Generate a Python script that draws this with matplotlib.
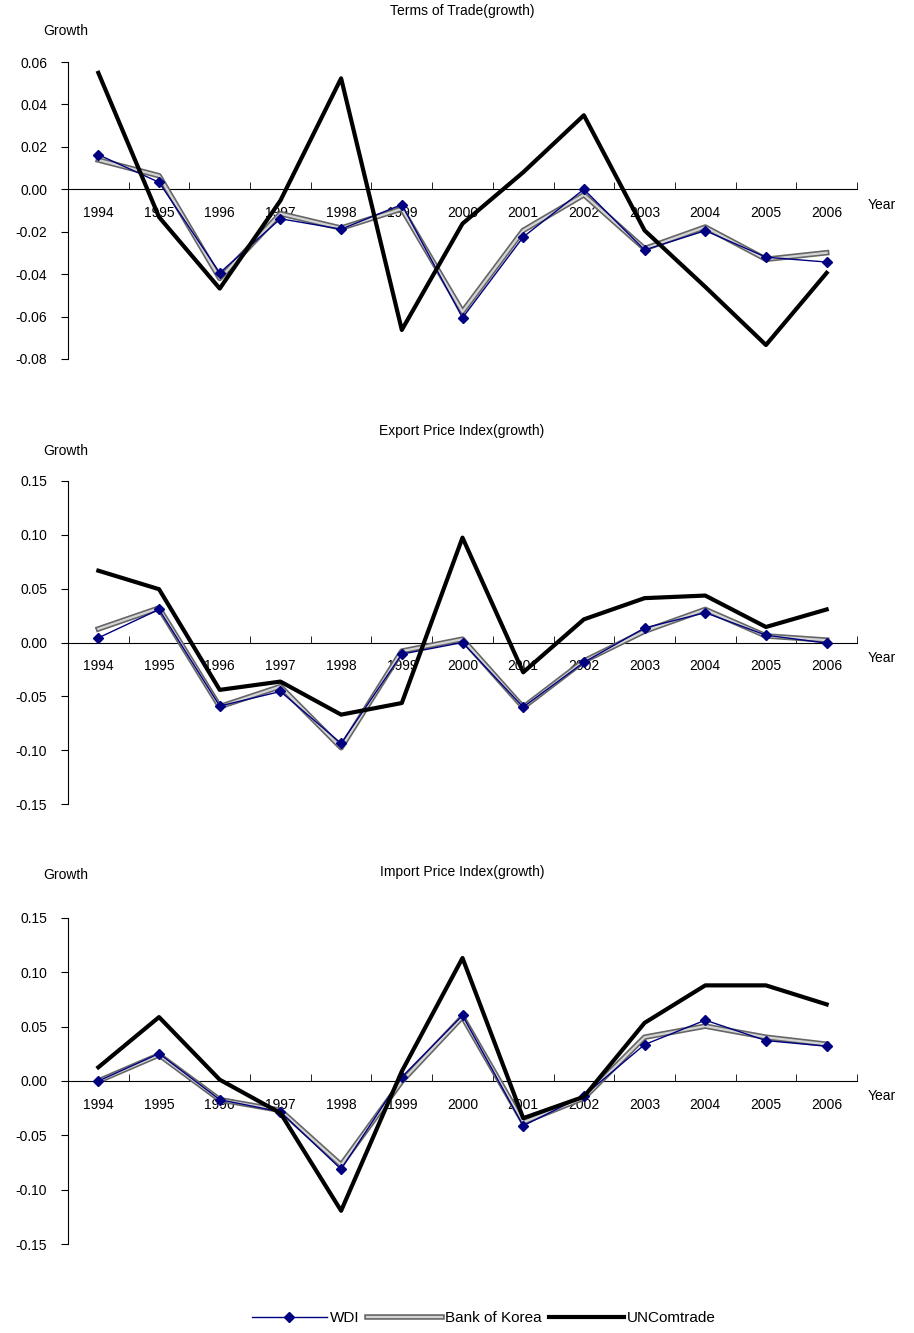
import matplotlib
matplotlib.use("Agg")
import matplotlib.pyplot as plt
import matplotlib.patheffects as pe
from matplotlib.ticker import FormatStrFormatter, MultipleLocator
import numpy as np

plt.rcParams['font.family'] = ['Liberation Sans', 'DejaVu Sans']

years = ['1994', '1995', '1996', '1997', '1998', '1999', '2000',
         '2001', '2002', '2003', '2004', '2005', '2006']

# Terms of Trade (growth)
tot_wdi = [0.0163, 0.0033, -0.0394, -0.0139, -0.0188, -0.0072, -0.0606,
           -0.0225, 0.0000, -0.0286, -0.0195, -0.0320, -0.0343]
tot_bok = [0.0138, 0.0064, -0.0420, -0.0115, -0.0183, -0.0092, -0.0577,
           -0.0194, -0.0026, -0.0280, -0.0178, -0.0330, -0.0299]
tot_un = [0.0549, -0.0131, -0.0468, -0.0053, 0.0523, -0.0663, -0.0162,
          0.0080, 0.0349, -0.0194, -0.0460, -0.0734, -0.0394]

# Export Price Index (growth)
exp_wdi = [0.0043, 0.0307, -0.0590, -0.0455, -0.0937, -0.0108, 0.0000,
           -0.0600, -0.0184, 0.0135, 0.0277, 0.0068, -0.0006]
exp_bok = [0.0126, 0.0320, -0.0596, -0.0409, -0.0977, -0.0080, 0.0031,
           -0.0602, -0.0172, 0.0105, 0.0307, 0.0061, 0.0022]
exp_un = [0.0667, 0.0495, -0.0440, -0.0363, -0.0670, -0.0562, 0.0974,
          -0.0277, 0.0215, 0.0412, 0.0436, 0.0144, 0.0307]

# Import Price Index (growth)
imp_wdi = [0.0000, 0.0252, -0.0172, -0.0283, -0.0812, 0.0037, 0.0603,
           -0.0412, -0.0135, 0.0335, 0.0560, 0.0372, 0.0320]
imp_bok = [0.0000, 0.0240, -0.0172, -0.0270, -0.0772, -0.0003, 0.0590,
           -0.0380, -0.0157, 0.0403, 0.0505, 0.0403, 0.0338]
imp_un = [0.0126, 0.0588, 0.0012, -0.0295, -0.1194, 0.0089, 0.1132,
          -0.0342, -0.0145, 0.0535, 0.0880, 0.0880, 0.0705]

W, H = 914, 1333
fig = plt.figure(figsize=(W / 100, H / 100), dpi=100)

panels = [
    # title, wdi, bok, un, ylim, step, (top px, bottom px), title y, growth y
    ('Terms of Trade(growth)', tot_wdi, tot_bok, tot_un, (-0.08, 0.06), 0.02, (62, 359), 11, 31),
    ('Export Price Index(growth)', exp_wdi, exp_bok, exp_un, (-0.15, 0.15), 0.05, (481, 804), 431, 451),
    ('Import Price Index(growth)', imp_wdi, imp_bok, imp_un, (-0.15, 0.15), 0.05, (918, 1244), 872, 875),
]

x = np.arange(len(years))
fs = 10
bok_fx = [pe.Stroke(linewidth=4, foreground='#666666'), pe.Normal()]

for title, wdi, bok, un, ylim, step, (top, bot), ty, gy in panels:
    ax = fig.add_axes([68 / W, 1 - bot / H, (857 - 68) / W, (bot - top) / H])
    l_bok, = ax.plot(x, bok, color='#d4d4d4', lw=1.6, zorder=3, label='Bank of Korea',
                     path_effects=bok_fx)
    l_wdi, = ax.plot(x, wdi, color='#000080', lw=1, marker='D', ms=5.5, zorder=4, label='WDI')
    l_un, = ax.plot(x, un, color='black', lw=3, zorder=5, label='UNComtrade')

    ax.set_xlim(-0.5, len(years) - 0.5)
    ax.set_ylim(*ylim)
    ax.spines['top'].set_visible(False)
    ax.spines['right'].set_visible(False)
    ax.spines['bottom'].set_position(('data', 0))
    ax.spines['bottom'].set_zorder(1)

    ax.set_xticks(x)
    ax.set_xticklabels(years, fontsize=fs)
    ax.set_xticks(np.arange(len(years) + 1) - 0.5, minor=True)
    ax.tick_params(axis='x', which='major', length=0, pad=12)
    ax.tick_params(axis='x', which='minor', direction='in', length=5)
    ax.yaxis.set_major_locator(MultipleLocator(step))
    ax.yaxis.set_major_formatter(FormatStrFormatter('%.2f'))
    ax.tick_params(axis='y', direction='out', length=5, labelsize=fs, pad=10)

    ax.annotate('Year', xy=(1, 0), xycoords=ax.get_yaxis_transform(),
                xytext=(8, -6), textcoords='offset points', ha='left', va='top', fontsize=fs)

    fig.text(462 / W, 1 - ty / H, title, ha='center', va='center', fontsize=fs)
    fig.text(66 / W, 1 - gy / H, 'Growth', ha='center', va='center', fontsize=fs)

fig.legend(handles=[l_wdi, l_bok, l_un], loc='center', bbox_to_anchor=(484 / W, 1 - 1318 / H),
           ncol=3, frameon=False, fontsize=11, handlelength=4.9, handletextpad=0.2,
           columnspacing=0.5, borderaxespad=0)

fig.savefig('out.png', dpi=100)
